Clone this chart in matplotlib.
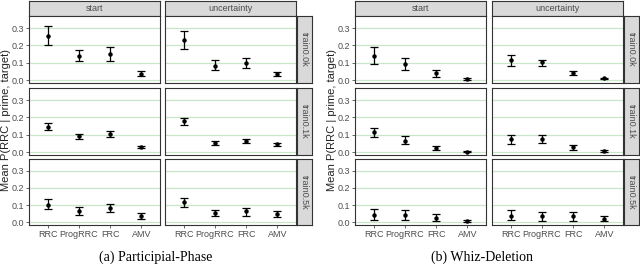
import matplotlib
matplotlib.use('Agg')
import matplotlib.pyplot as plt

plt.rcParams['font.family'] = ['Liberation Sans', 'DejaVu Sans']

categories = ["RRC", "ProgRRC", "FRC", "AMV"]
phases = ["start", "uncertainty"]
train_sizes = ["train0.0k", "train0.1k", "train0.5k"]
yticks = [0.0, 0.1, 0.2, 0.3]

# (a) Participial-Phase: rows = train sizes, values per category
pp_start_mean = [[0.256, 0.140, 0.150, 0.037],
                 [0.143, 0.090, 0.105, 0.027],
                 [0.100, 0.065, 0.083, 0.035]]
pp_start_lo = [[0.202, 0.108, 0.112, 0.021],
               [0.128, 0.076, 0.088, 0.021],
               [0.079, 0.044, 0.058, 0.017]]
pp_start_hi = [[0.313, 0.175, 0.190, 0.052],
               [0.166, 0.105, 0.120, 0.033],
               [0.135, 0.087, 0.108, 0.052]]
pp_unc_mean = [[0.229, 0.083, 0.098, 0.037],
               [0.178, 0.054, 0.065, 0.044],
               [0.115, 0.054, 0.063, 0.050]]
pp_unc_lo = [[0.181, 0.058, 0.069, 0.023],
             [0.155, 0.042, 0.054, 0.033],
             [0.088, 0.035, 0.038, 0.027]]
pp_unc_hi = [[0.281, 0.113, 0.129, 0.048],
             [0.197, 0.065, 0.076, 0.054],
             [0.142, 0.069, 0.085, 0.065]]

# (b) Whiz-Deletion
wd_start_mean = [[0.140, 0.092, 0.040, 0.006],
                 [0.113, 0.066, 0.023, 0.003],
                 [0.044, 0.044, 0.023, 0.004]]
wd_start_lo = [[0.094, 0.058, 0.019, 0.002],
               [0.088, 0.045, 0.010, 0.000],
               [0.012, 0.013, 0.004, 0.000]]
wd_start_hi = [[0.192, 0.129, 0.060, 0.012],
               [0.140, 0.090, 0.035, 0.006],
               [0.077, 0.073, 0.048, 0.010]]
wd_unc_mean = [[0.113, 0.102, 0.042, 0.010],
               [0.076, 0.074, 0.027, 0.008],
               [0.038, 0.033, 0.033, 0.019]]
wd_unc_lo = [[0.081, 0.081, 0.027, 0.006],
             [0.049, 0.051, 0.014, 0.002],
             [0.012, 0.008, 0.006, 0.004]]
wd_unc_hi = [[0.142, 0.117, 0.054, 0.013],
             [0.100, 0.096, 0.039, 0.014],
             [0.069, 0.058, 0.060, 0.035]]

W, H = 640, 266
fig = plt.figure(figsize=(W / 100, H / 100), dpi=100)

def box(x0, y0, x1, y1):
    # pixel box (top-left origin) -> figure fraction rect
    return [x0 / W, 1 - y1 / H, (x1 - x0) / W, (y1 - y0) / H]

grey_txt = '#4d4d4d'
border = '#333333'
grid_col = '#c9e6c9'
strip_fill = '#d9d9d9'

rows_px = [(16, 83), (88, 155), (159, 225)]

def strip(rect, label, rot):
    sa = fig.add_axes(rect)
    sa.set_xticks([]); sa.set_yticks([])
    sa.set_facecolor(strip_fill)
    for s in sa.spines.values():
        s.set_color(border); s.set_linewidth(0.8)
    sa.text(0.5, 0.5, label, ha='center', va='center', fontsize=6.5,
            color=grey_txt, rotation=rot, transform=sa.transAxes)

def draw_grid(cols_px, strip_x, data, caption, cap_x, ylab_x):
    for c, phase in enumerate(phases):
        means, los, his = data[phase]
        x0, x1 = cols_px[c]
        strip(box(x0, 1, x1, 16), phase, 0)
        for r in range(3):
            y0, y1 = rows_px[r]
            ax = fig.add_axes(box(x0, y0, x1, y1))
            xs = list(range(1, len(categories) + 1))
            m = means[r]
            lo = [m[i] - los[r][i] for i in range(len(m))]
            hi = [his[r][i] - m[i] for i in range(len(m))]
            ax.errorbar(xs, m, yerr=[lo, hi], fmt='o', color='black',
                        markersize=2.2, elinewidth=0.9, capsize=2.6,
                        capthick=0.9, zorder=3)
            ax.set_xlim(0.4, 4.6)
            ax.set_ylim(-0.017, 0.37)
            ax.set_yticks(yticks)
            ax.grid(axis='y', color=grid_col, linewidth=0.9)
            ax.set_axisbelow(True)
            for s in ax.spines.values():
                s.set_color(border); s.set_linewidth(0.8)
            ax.tick_params(length=2, width=0.6, color=grey_txt,
                           labelsize=6.5, labelcolor=grey_txt, pad=1.5)
            ax.set_xticks(xs)
            if r == 2:
                ax.set_xticklabels(categories)
            else:
                ax.tick_params(axis='x', length=0)
                ax.set_xticklabels([])
            if c == 0:
                ax.set_yticklabels([f"{v:.1f}" for v in yticks])
            else:
                ax.tick_params(axis='y', length=0)
                ax.set_yticklabels([])
            if c == 1:
                strip(box(strip_x[0], y0, strip_x[1], y1), train_sizes[r], -90)
    fig.text(ylab_x / W, 1 - 120 / H, "Mean P(RRC | prime, target)",
             rotation=90, ha='center', va='center', fontsize=8, color='#222222')
    fig.text(cap_x / W, 1 - 257 / H, caption, ha='center', va='center',
             fontsize=10, family='Liberation Serif')

draw_grid([(29, 160), (165, 296)], (297, 312),
          {"start": (pp_start_mean, pp_start_lo, pp_start_hi),
           "uncertainty": (pp_unc_mean, pp_unc_lo, pp_unc_hi)},
          "(a) Participial-Phase", 156, 6)
draw_grid([(355, 486), (492, 623)], (624, 639),
          {"start": (wd_start_mean, wd_start_lo, wd_start_hi),
           "uncertainty": (wd_unc_mean, wd_unc_lo, wd_unc_hi)},
          "(b) Whiz-Deletion", 482, 332)

fig.savefig('out.png', dpi=100)
